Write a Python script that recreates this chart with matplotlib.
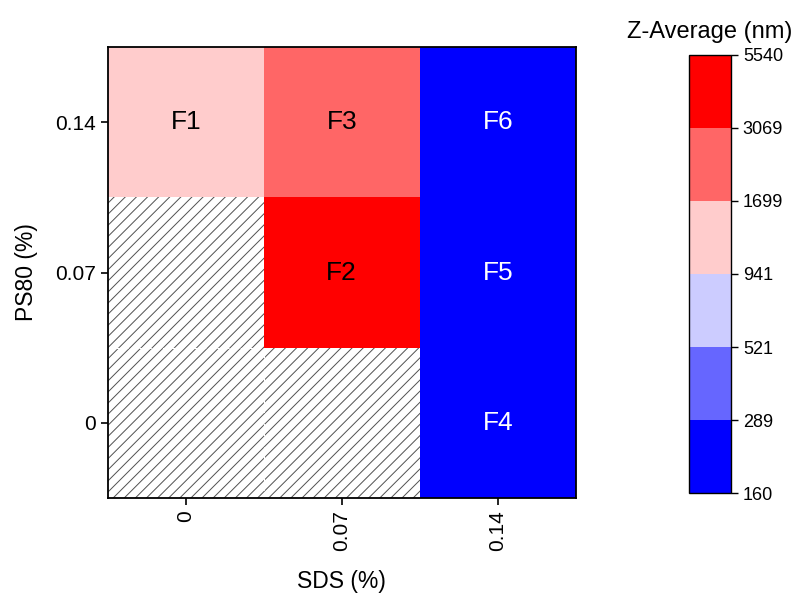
import numpy as np
import matplotlib.pyplot as plt
from matplotlib.colors import ListedColormap, BoundaryNorm
from matplotlib.patches import Rectangle

plt.rcParams['font.family'] = ['Liberation Sans', 'DejaVu Sans']
plt.rcParams['hatch.linewidth'] = 0.7

sds_labels = ['0', '0.07', '0.14']     # x categories
ps80_labels = ['0', '0.07', '0.14']    # y categories (bottom to top)

# Z-average (nm), rows = PS80, cols = SDS; NaN = not prepared (hatched)
z_avg = np.array([
    [np.nan, np.nan, 225.0],
    [np.nan, 4200.0, 230.0],
    [1300.0, 2400.0, 240.0],
])
names = [
    [None, None, 'F4'],
    [None, 'F2', 'F5'],
    ['F1', 'F3', 'F6'],
]

levels = [160, 289, 521, 941, 1699, 3069, 5540]
level_colors = ['#0000FF', '#6666FF', '#CCCCFF', '#FFCCCC', '#FF6666', '#FF0000']

cmap = ListedColormap(level_colors)
norm = BoundaryNorm(levels, cmap.N)

fig = plt.figure(figsize=(7.92, 5.95), dpi=100)
ax = fig.add_axes([0.136, 0.163, 0.591, 0.758])

nr, nc = z_avg.shape
mesh = ax.pcolormesh(np.arange(nc + 1) - 0.5, np.arange(nr + 1) - 0.5,
                     np.ma.masked_invalid(z_avg), cmap=cmap, norm=norm)

missing = np.isnan(z_avg)
dash = dict(color='white', lw=0.8, ls=(0, (4, 3)), zorder=1.5)
for i in range(nr):
    for j in range(nc):
        if missing[i, j]:
            ax.add_patch(Rectangle((j - 0.5, i - 0.5), 1, 1, facecolor='white',
                                   edgecolor='#505050', hatch='///', lw=0, zorder=1))
            # faint seams between neighbouring empty cells
            if j + 1 < nc and missing[i, j + 1]:
                ax.plot([j + 0.5, j + 0.5], [i - 0.5, i + 0.5], **dash)
            if i + 1 < nr and missing[i + 1, j]:
                ax.plot([j - 0.5, j + 0.5], [i + 0.5, i + 0.5], **dash)
        else:
            tc = 'white' if z_avg[i, j] < 521 else 'black'
            ax.text(j, i, names[i][j], ha='center', va='center', fontsize=19, color=tc)

ax.set_xlim(-0.5, nc - 0.5)
ax.set_ylim(-0.5, nr - 0.5)
ax.set_xticks(range(nc))
ax.set_xticklabels(sds_labels, rotation=90, fontsize=15)
ax.set_yticks(range(nr))
ax.set_yticklabels(ps80_labels, fontsize=15)
ax.tick_params(direction='out', length=5, width=1.2)
for s in ax.spines.values():
    s.set_linewidth(1.3)
    s.set_zorder(3)
ax.set_xlabel('SDS (%)', fontsize=16.5, labelpad=14)
ax.set_ylabel('PS80 (%)', fontsize=16.5, labelpad=12)

cax = fig.add_axes([0.870, 0.171, 0.053, 0.737])
cb = fig.colorbar(mesh, cax=cax, ticks=levels)
cb.ax.set_yticklabels([str(v) for v in levels])
cb.ax.tick_params(labelsize=13, length=5, width=1)
cb.outline.set_linewidth(1)
cax.set_title('Z-Average (nm)', fontsize=17, pad=12)

fig.savefig('out.png', dpi=100)
